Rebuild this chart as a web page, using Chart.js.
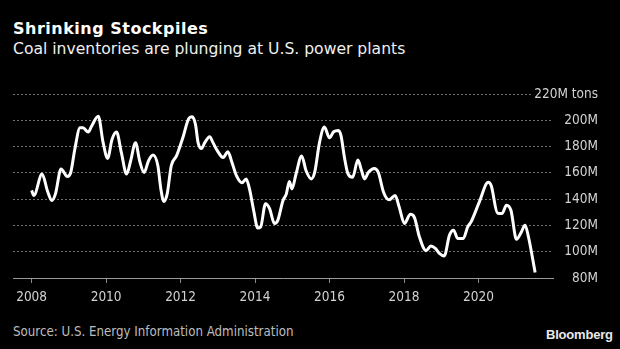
<!DOCTYPE html>
<html>
<head>
<meta charset="utf-8">
<script src="https://cdn.jsdelivr.net/npm/chart.js@4"></script>
<style>
  body { margin: 0; background: #000; width: 620px; height: 349px; overflow: hidden; position: relative; }
  .title { position: absolute; left: 13px; top: 21px; color: #fff; font: bold 16px/16px "DejaVu Sans"; letter-spacing: 0.5px; white-space: nowrap; }
  .subtitle { position: absolute; left: 13px; top: 41px; color: #f0f0f0; font: 15.6px/16px "DejaVu Sans"; white-space: nowrap; }
  .source { position: absolute; left: 13px; top: 325px; color: #bdbdbd; font: 13.2px/13px "DejaVu Sans Condensed", "Liberation Sans", sans-serif; font-stretch: condensed; white-space: nowrap; }
  .logo { position: absolute; left: 546px; top: 328px; color: #e8e8e8; font: bold 13px/13px "Liberation Sans", sans-serif; letter-spacing: -0.2px; white-space: nowrap; }
  #wrap { position: absolute; left: 0; top: 80px; }
</style>
</head>
<body>
<div class="title">Shrinking Stockpiles</div>
<div class="subtitle">Coal inventories are plunging at U.S. power plants</div>
<div id="wrap"><canvas id="myChart" width="620" height="240"></canvas></div>
<div class="source">Source: U.S. Energy Information Administration</div>
<div class="logo">Bloomberg</div>
<script>
// coal stockpiles at U.S. power plants, million tons
const dates = [
  2008.00, 2008.06, 2008.28, 2008.43, 2008.54, 2008.64, 2008.79, 2008.96,
  2009.05, 2009.16, 2009.30, 2009.38, 2009.52, 2009.61, 2009.79, 2009.92,
  2010.04, 2010.16, 2010.28, 2010.41, 2010.55, 2010.66, 2010.79, 2010.90,
  2011.02, 2011.14, 2011.26, 2011.39, 2011.47, 2011.55, 2011.64, 2011.75, 2011.89,
  2012.06, 2012.23, 2012.31, 2012.40, 2012.47, 2012.56, 2012.65, 2012.78, 2012.87, 2012.99,
  2013.14, 2013.27, 2013.38, 2013.50, 2013.65, 2013.76, 2013.85, 2013.97,
  2014.07, 2014.15, 2014.28, 2014.39, 2014.52, 2014.61, 2014.75, 2014.84, 2014.92, 2014.99,
  2015.10, 2015.25, 2015.37, 2015.51, 2015.60, 2015.73, 2015.86,
  2016.00, 2016.11, 2016.24, 2016.31, 2016.40, 2016.49, 2016.62, 2016.76, 2016.86, 2016.94,
  2017.04, 2017.20, 2017.31, 2017.45, 2017.60, 2017.76, 2017.87,
  2018.01, 2018.17, 2018.28, 2018.41, 2018.59, 2018.72, 2018.84, 2018.95,
  2019.08, 2019.22, 2019.33, 2019.44, 2019.59, 2019.71, 2019.80,
  2020.02, 2020.26, 2020.34, 2020.51, 2020.63, 2020.75, 2020.87,
  2021.02, 2021.14, 2021.25, 2021.34, 2021.52
]
const stocks = [
  146.6, 142.8, 159.1, 145.8, 139.0, 144.0, 163.0, 157.3,
  160.3, 178.0, 194.3, 194.3, 191.0, 195.5, 203.0, 183.0,
  171.0, 185.5, 191.0, 175.4, 159.1, 169.2, 183.0, 169.2,
  160.3, 169.2, 173.5, 165.4, 147.8, 138.3, 144.0, 165.4, 172.9,
  186.7, 201.8, 202.6, 196.8, 183.0, 178.5, 183.0, 187.5, 183.0, 176.7,
  171.7, 176.0, 167.9, 157.9, 152.4, 155.4, 147.8, 130.2,
  118.1, 118.9, 136.5, 132.8, 121.5, 123.9, 139.0, 144.0, 153.5, 147.8,
  159.1, 172.9, 161.6, 155.4, 160.3, 183.0, 194.8,
  186.7, 191.3, 192.3, 188.0, 171.7, 159.6, 156.6, 169.7, 161.6, 155.4,
  160.3, 163.4, 160.3, 145.3, 139.5, 142.8, 134.0,
  121.5, 128.5, 126.0, 111.5, 100.8, 104.3, 102.6, 98.8,
  96.8, 112.6, 116.4, 110.1, 110.1, 118.9, 122.7,
  137.7, 152.8, 150.3, 129.4, 129.0, 135.3, 131.5,
  109.4, 114.4, 120.2, 111.4, 84.2
]
const yearTicks = [2008, 2010, 2012, 2014, 2016, 2018, 2020]
const yTicks = [80, 100, 120, 140, 160, 180, 200, 220]
const yTickLabels = ['80M', '100M', '120M', '140M', '160M', '180M', '200M', '220M tons']

const tickFont = { family: '"DejaVu Sans Condensed", "Liberation Sans", sans-serif', size: 13.5 }

const ctx = document.getElementById('myChart').getContext('2d')
new Chart(ctx, {
  type: 'line',
  data: {
    datasets: [{
      data: dates.map((d, i) => ({ x: d, y: stocks[i] })),
      borderColor: '#ffffff',
      borderWidth: 3,
      pointRadius: 0,
      fill: false,
      cubicInterpolationMode: 'monotone'
    }]
  },
  options: {
    responsive: false,
    animation: false,
    layout: { padding: { left: 13, top: 14, right: 22, bottom: 12 } },
    plugins: { legend: { display: false }, tooltip: { enabled: false } },
    scales: {
      x: {
        type: 'linear',
        min: 2007.5,
        max: 2022,
        afterBuildTicks: s => { s.ticks = yearTicks.map(v => ({ value: v })) },
        afterFit: s => { s.height = 30; s.paddingLeft = 0; s.paddingRight = 0 },
        grid: { drawOnChartArea: false, drawTicks: true, tickLength: 5, color: '#8a8a8a' },
        border: { display: true, color: '#9a9a9a', width: 1 },
        ticks: {
          color: '#d2d2d2',
          font: tickFont,
          padding: 6,
          maxRotation: 0,
          callback: v => String(v)
        }
      },
      y: {
        position: 'right',
        min: 80,
        max: 220,
        afterBuildTicks: s => { s.ticks = yTicks.map(v => ({ value: v })) },
        // mirrored labels sit right-aligned at x=598; drop the padding they add above and below
        afterFit: s => { s.width = 45; s.paddingTop = 0; s.paddingBottom = 0 },
        grid: {
          drawTicks: false,
          color: c => (c.tick && c.tick.value === 80) ? 'rgba(0,0,0,0)' : '#707070',
          lineWidth: 1
        },
        border: { display: false, dash: [2, 2] },
        ticks: {
          color: '#d2d2d2',
          font: tickFont,
          mirror: true,
          crossAlign: 'near',
          padding: 45,
          showLabelBackdrop: true,
          backdropColor: '#000',
          backdropPadding: 2,
          callback: v => yTickLabels[yTicks.indexOf(v)]
        }
      }
    }
  }
})
</script>
</body>
</html>
